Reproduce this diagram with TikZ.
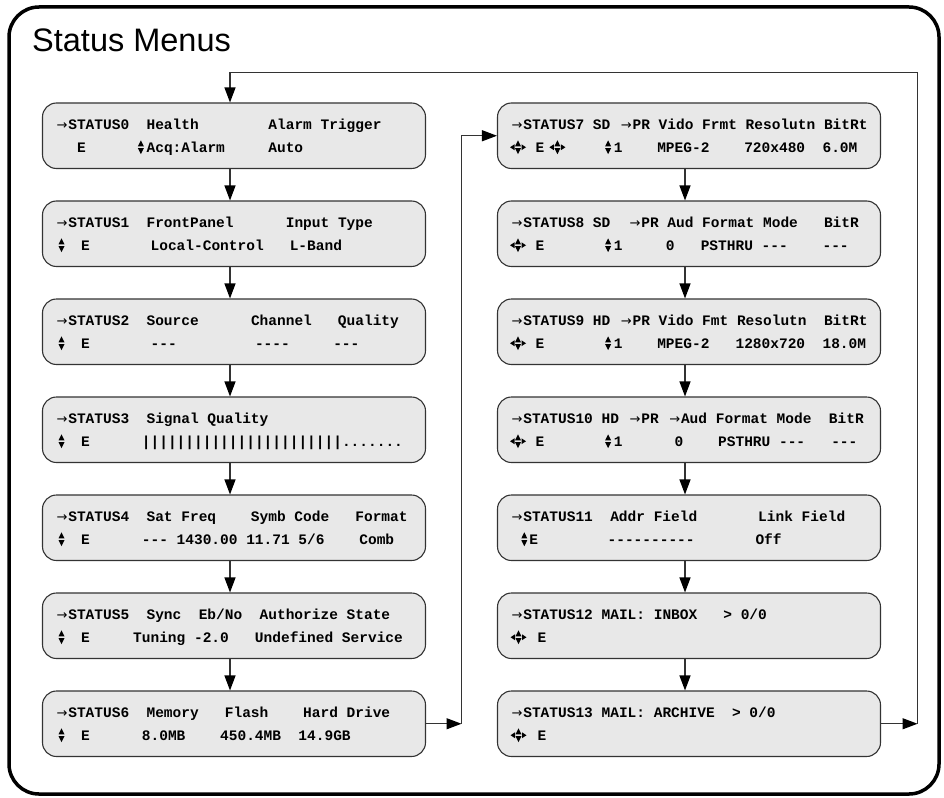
\documentclass[tikz,border=0pt]{standalone}
\usepackage{fontspec}
\setmainfont{Liberation Sans}
\newfontfamily\monof{Liberation Mono}[Ligatures=TeXOff]
\newfontfamily\symf{DejaVu Sans}
\usetikzlibrary{arrows.meta,calc}
\newlength\cw
\setlength\cw{8.7pt}
\newcommand\cc[2]{\rlap{\hspace*{#1\cw}#2}}
\newcommand\ARR{\makebox[13.6pt][r]{\raisebox{0.4pt}{\symf\mdseries\fontsize{13}{13}\selectfont →}\hspace{0.8pt}}}
% up/down and left/up/down/right key symbols, drawn as small filled triangles
\newcommand\UD{\tikz[x=1pt,y=1pt,baseline=0pt]{%
  \fill (0,6.1)--(6,6.1)--(3,12.2)--cycle;
  \fill (0,4.4)--(6,4.4)--(3,-1.7)--cycle;}}
\newcommand\LR{\tikz[x=1pt,y=1pt,baseline=0pt]{%
  \fill (0,5.25)--(4.5,2.3)--(4.5,8.2)--cycle;
  \fill (5,6.1)--(11,6.1)--(8,12.2)--cycle;
  \fill (5,4.4)--(11,4.4)--(8,-1.7)--cycle;
  \fill (16,5.25)--(11.5,2.3)--(11.5,8.2)--cycle;}}
\newcommand\UDl{\llap{\UD\hspace{16.5pt}}}
\newcommand\LRl{\llap{\LR\hspace{9.5pt}}}
\newcommand\stbox[6]{%
  \node[box] (#1) at (#2+191.5,#3+32.75) {};
  \node[txt] (#1a) at (#2+25.3,#3+26.5) {\llap{\ARR}#4};
  \node[txt] (#1b) at (#5,#3+49.5) {#6};}
\begin{document}
\begin{tikzpicture}[x=1pt,y=-1pt,
  box/.style={draw=black!80,line width=1.1pt,fill=black!9,rounded corners=14pt,
    minimum width=383pt,minimum height=65.5pt,inner sep=0pt},
  txt/.style={anchor=base west,inner sep=0pt,outer sep=0pt,
    font=\monof\bfseries\fontsize{14.5}{17}\selectfont},
  conn/.style={draw=black!80,line width=1.2pt,
    -{Triangle[length=15pt,width=11pt,color=black]}}]
\useasboundingbox (0,0) rectangle (944,797);
\draw[line width=3.5pt,rounded corners=30pt] (9,7) rectangle (939,794);
\node[anchor=base west,inner sep=0pt,font=\fontsize{32.5}{36}\selectfont] (title) at (32,51.7) {Status Menus};
% left column
\stbox{s0}{42.5}{103}{\cc{0}{STATUS0}\cc{9}{Health}\cc{23}{Alarm Trigger}}
  {67.8}{\cc{1}{E}\cc{8}{\UD}\cc{9}{Acq:Alarm}\cc{23}{Auto}}
\stbox{s1}{42.5}{201}{\cc{0}{STATUS1}\cc{9}{FrontPanel}\cc{25}{Input Type}}
  {80.5}{\UDl\cc{0}{E}\cc{8}{Local-Control}\cc{24}{L-Band}}
\stbox{s2}{42.5}{299}{\cc{0}{STATUS2}\cc{9}{Source}\cc{21}{Channel}\cc{31}{Quality}}
  {80.5}{\UDl\cc{0}{E}\cc{8}{---}\cc{20}{----}\cc{29}{---}}
\stbox{s3}{42.5}{397}{\cc{0}{STATUS3}\cc{9}{Signal Quality}}
  {80.5}{\UDl\cc{0}{E}\cc{7}{|||||||||||||||||||||||.......}}
\stbox{s4}{42.5}{495}{\cc{0}{STATUS4}\cc{9}{Sat Freq}\cc{21}{Symb}\cc{26}{Code}\cc{33}{Format}}
  {80.5}{\UDl\cc{0}{E}\cc{7}{---}\cc{11}{1430.00}\cc{19}{11.71}\cc{25}{5/6}\cc{32}{Comb}}
\stbox{s5}{42.5}{593}{\cc{0}{STATUS5}\cc{9}{Sync}\cc{15}{Eb/No}\cc{22}{Authorize State}}
  {80.5}{\UDl\cc{0}{E}\cc{6}{Tuning -2.0}\cc{20}{Undefined Service}}
\stbox{s6}{42.5}{691}{\cc{0}{STATUS6}\cc{9}{Memory}\cc{18}{Flash}\cc{27}{Hard Drive}}
  {80.5}{\UDl\cc{0}{E}\cc{7}{8.0MB}\cc{16}{450.4MB}\cc{25}{14.9GB}}
% right column
\stbox{s7}{497.5}{103}{\cc{0}{STATUS7 SD \ARR PR Vido Frmt Resolutn BitRt}}
  {535}{\LRl\cc{0}{E}\cc{1.6}{\LR}\cc{8}{\UD}\cc{9}{1}\cc{14}{MPEG-2}\cc{24}{720x480}\cc{33}{6.0M}}
\stbox{s8}{497.5}{201}{\cc{0}{STATUS8 SD}\cc{12}{\ARR PR Aud Format Mode~~~BitR}}
  {535}{\LRl\cc{0}{E}\cc{8}{\UD}\cc{9}{1}\cc{15}{0}\cc{19}{PSTHRU}\cc{26}{---}\cc{33}{---}}
\stbox{s9}{497.5}{299}{\cc{0}{STATUS9 HD \ARR PR Vido Fmt Resolutn~~BitRt}}
  {535}{\LRl\cc{0}{E}\cc{8}{\UD}\cc{9}{1}\cc{14}{MPEG-2}\cc{23}{1280x720}\cc{33}{18.0M}}
\stbox{s10}{497.5}{397}{\cc{0}{STATUS10 HD \ARR PR \ARR Aud Format Mode~~BitR}}
  {535}{\LRl\cc{0}{E}\cc{8}{\UD}\cc{9}{1}\cc{16}{0}\cc{21}{PSTHRU}\cc{28}{---}\cc{34}{---}}
\stbox{s11}{497.5}{495}{\cc{0}{STATUS11}\cc{10}{Addr Field}\cc{27}{Link Field}}
  {528.8}{\llap{\UD\hspace{2pt}}\cc{0}{E}\cc{9}{----------}\cc{26}{Off}}
\stbox{s12}{497.5}{593}{\cc{0}{STATUS12 MAIL: INBOX}\cc{23}{> 0/0}}
  {537}{\llap{\LR\hspace{11pt}}\cc{0}{E}}
\stbox{s13}{497.5}{691}{\cc{0}{STATUS13 MAIL: ARCHIVE}\cc{24}{> 0/0}}
  {537}{\llap{\LR\hspace{11pt}}\cc{0}{E}}
% connectors
\foreach \a/\b in {s0/s1,s1/s2,s2/s3,s3/s4,s4/s5,s5/s6,s7/s8,s8/s9,s9/s10,s10/s11,s11/s12,s12/s13}
  \draw[conn] ([xshift=-4pt]\a.south) -- ([xshift=-4pt]\b.north);
\coordinate (j1) at (461.5,135.75);
\coordinate (j2) at (917.5,72.5);
\draw[conn] (s6.east) -- (s6.east -| j1);
\draw[conn] (s6.east -| j1) -- (j1) -- (s7.west);
\draw[conn] (s13.east) -- (s13.east -| j2);
\draw[conn] (s13.east -| j2) -- (j2) -| ([xshift=-4pt]s0.north);
\end{tikzpicture}
\end{document}
